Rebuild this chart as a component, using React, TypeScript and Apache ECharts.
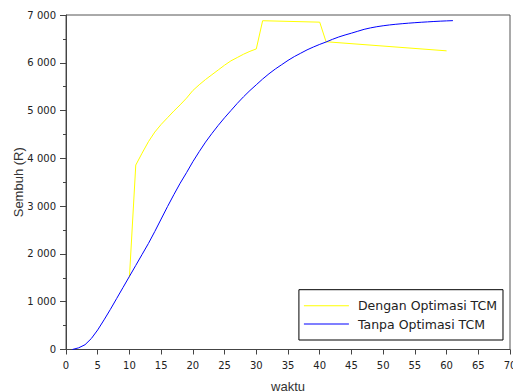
import React, { useEffect, useRef } from "react";
import * as echarts from "echarts";

const seriesNames = ["Dengan Optimasi TCM", "Tanpa Optimasi TCM"];

const yellowX = [10, 11, 12, 13, 14, 15, 16, 17, 18, 19, 20, 21, 22, 23, 24, 25, 26, 27, 28, 29, 30, 31, 40, 41, 60];
const yellowY = [1510, 3860, 4110, 4350, 4550, 4710, 4850, 4990, 5120, 5260, 5420, 5540, 5650, 5750, 5850, 5950, 6040, 6110, 6180, 6240, 6290, 6880, 6850, 6440, 6250];

const blueX = [1, 2, 3, 4, 5, 6, 7, 8, 9, 10, 11, 12, 13, 14, 15, 16, 17, 18, 19, 20, 21, 22, 23, 24, 25, 26, 27, 28, 29, 30, 31, 32, 33, 34, 35, 36, 37, 38, 39, 40, 41, 42, 43, 44, 45, 46, 47, 48, 49, 50, 51, 52, 53, 54, 55, 56, 57, 58, 59, 60, 61];
const blueY = [0, 35, 100, 230, 410, 620, 840, 1070, 1300, 1530, 1760, 1990, 2220, 2470, 2730, 2990, 3240, 3480, 3700, 3930, 4140, 4340, 4520, 4690, 4850, 5000, 5150, 5290, 5420, 5540, 5660, 5770, 5870, 5960, 6050, 6130, 6200, 6270, 6330, 6385, 6435, 6490, 6540, 6582, 6620, 6660, 6700, 6730, 6755, 6775, 6792, 6806, 6818, 6829, 6839, 6848, 6856, 6864, 6871, 6877, 6882];

const font = "'DejaVu Sans', Verdana, sans-serif";
const titleFont = "'Liberation Sans', Arial, sans-serif";

function fmt(v: number) {
  return String(v).replace(/\B(?=(\d{3})+(?!\d))/g, " ");
}

export default function App() {
  const ref = useRef<HTMLDivElement>(null);
  useEffect(() => {
    const chart = echarts.init(ref.current!, null, { renderer: "svg" });
    chart.setOption({
      animation: false,
      backgroundColor: "#fff",
      grid: {
        left: 66,
        right: 3,
        top: 15,
        bottom: 41.5,
        containLabel: false,
        outerBoundsMode: "none",
        show: true,
        borderColor: "#555",
        borderWidth: 1,
      },
      legend: {
        data: seriesNames,
        orient: "vertical",
        right: 10,
        bottom: 51,
        backgroundColor: "#fff",
        borderColor: "#000",
        borderWidth: 1,
        borderRadius: 0,
        padding: [9, 6, 9, 5],
        itemGap: 4.3,
        itemWidth: 45,
        itemHeight: 1,
        icon: "rect",
        textStyle: { fontFamily: font, fontSize: 12.5, lineHeight: 14, color: "#222", padding: [0, 0, 0, 4] },
      },
      xAxis: {
        type: "value",
        min: 0,
        max: 70,
        interval: 5,
        name: "waktu",
        nameLocation: "middle",
        nameGap: 30,
        nameMoveOverlap: false,
        nameTextStyle: { fontFamily: titleFont, fontSize: 13, color: "#333" },
        axisLine: { show: true, onZero: false, lineStyle: { color: "#444", width: 1 } },
        axisTick: { show: true, length: 5, lineStyle: { color: "#444" } },
        axisLabel: { fontFamily: font, fontSize: 10, color: "#222", margin: 11 },
        splitLine: { show: false },
      },
      yAxis: {
        type: "value",
        min: 0,
        max: 7000,
        interval: 1000,
        name: "Sembuh (R)",
        nameLocation: "middle",
        nameGap: 41,
        nameRotate: 90,
        nameMoveOverlap: false,
        nameTextStyle: { fontFamily: titleFont, fontSize: 13, color: "#333" },
        axisLine: { show: true, onZero: false, lineStyle: { color: "#444", width: 1 } },
        axisTick: { show: true, length: 6, lineStyle: { color: "#444" } },
        minorTick: { show: true, splitNumber: 2, length: 3, lineStyle: { color: "#444" } },
        axisLabel: { fontFamily: font, fontSize: 10, color: "#222", margin: 10, formatter: fmt },
        splitLine: { show: false },
      },
      series: [
        {
          name: seriesNames[0],
          type: "line",
          data: yellowX.map((x, i) => [x, yellowY[i]]),
          showSymbol: false,
          symbol: "none",
          itemStyle: { color: "#ffff00" },
          lineStyle: { color: "#ffff00", width: 1 },
        },
        {
          name: seriesNames[1],
          type: "line",
          data: blueX.map((x, i) => [x, blueY[i]]),
          showSymbol: false,
          symbol: "none",
          itemStyle: { color: "#0000ff" },
          lineStyle: { color: "#0000ff", width: 1 },
        },
      ],
    });
    return () => chart.dispose();
  }, []);
  return <div ref={ref} style={{ width: 513, height: 391, position: "absolute", left: 0, top: 0 }} />;
}
